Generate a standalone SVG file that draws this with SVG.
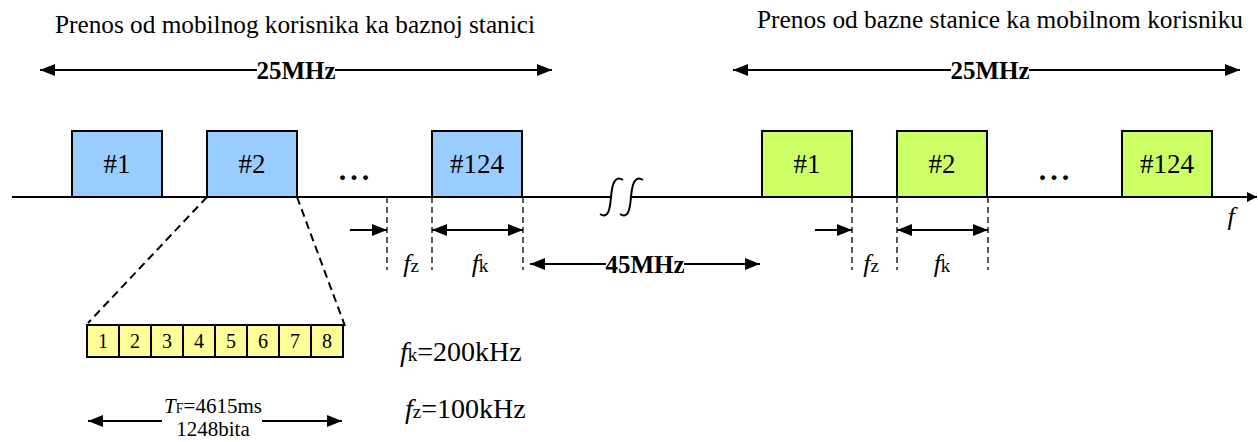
<svg xmlns="http://www.w3.org/2000/svg" width="1258" height="442" viewBox="0 0 1258 442">
  <style>
    text { font-family: "Liberation Serif", "Times New Roman", serif; fill: #000; }
    .title { font-size: 25px; text-anchor: middle; }
    .bold { font-size: 25px; font-weight: bold; text-anchor: middle; }
    .lbl { font-size: 26px; text-anchor: middle; }
    .box { font-size: 27px; text-anchor: middle; }
    .dots { font-size: 30px; font-weight: bold; text-anchor: middle; }
    .it { font-style: italic; }
    .sub { font-size: 19px; }
    .subs { font-size: 14px; }
    .slot { font-size: 20px; text-anchor: middle; }
    .param { font-size: 28px; }
    .psub { font-size: 19px; }
    .small { font-size: 21px; text-anchor: middle; }
    .line { stroke: #000; stroke-width: 2; fill: none; }
    .dash { stroke: #000; stroke-width: 1.3; stroke-dasharray: 6 4; fill: none; }
    .dashd { stroke: #000; stroke-width: 2; stroke-dasharray: 8 5; fill: none; }
    .up { fill: #99CCFF; stroke: #000; stroke-width: 2; }
    .down { fill: #CCFF66; stroke: #000; stroke-width: 2; }
    .ts { fill: #FFFF99; stroke: #000; stroke-width: 2; }
  </style>
  <defs>
    <marker id="ah" viewBox="0 0 15 12" refX="15" refY="6" markerWidth="15" markerHeight="12" markerUnits="userSpaceOnUse" orient="auto-start-reverse">
      <path d="M0,0 L15,6 L0,12 Z" fill="#000"/>
    </marker>
    <marker id="ahs" viewBox="0 0 10 10" refX="10" refY="5" markerWidth="10" markerHeight="10" markerUnits="userSpaceOnUse" orient="auto">
      <path d="M0,0 L10,5 L0,10 Z" fill="#000"/>
    </marker>
  </defs>

  <!-- headings -->
  <g id="title-uplink">
    <text class="title" x="295" y="33" textLength="480" lengthAdjust="spacingAndGlyphs">Prenos od mobilnog korisnika ka baznoj stanici</text>
  </g>
  <g id="title-downlink">
    <text class="title" x="1000" y="28" textLength="486" lengthAdjust="spacingAndGlyphs">Prenos od bazne stanice ka mobilnom korisniku</text>
  </g>

  <!-- bandwidth spans -->
  <g id="span-uplink">
    <line class="line" x1="40" y1="70" x2="257" y2="70" marker-start="url(#ah)"/>
    <line class="line" x1="335" y1="70" x2="552" y2="70" marker-end="url(#ah)"/>
    <text class="bold" x="296" y="79">25MHz</text>
  </g>
  <g id="span-downlink">
    <line class="line" x1="733" y1="70" x2="951" y2="70" marker-start="url(#ah)"/>
    <line class="line" x1="1029" y1="70" x2="1240" y2="70" marker-end="url(#ah)"/>
    <text class="bold" x="990" y="79">25MHz</text>
  </g>

  <!-- frequency axis -->
  <g id="axis">
    <line class="line" x1="12" y1="197" x2="610" y2="197"/>
    <line class="line" x1="632" y1="197" x2="1257" y2="197" marker-end="url(#ahs)"/>
    <path class="line" d="M623,180 C615,175 612,184 611,197 C610,210 608,219 600,214"/>
    <path class="line" d="M643,180 C635,175 632,184 631,197 C630,210 628,219 620,214"/>
    <text class="lbl it" x="1231" y="225">f</text>
  </g>

  <!-- uplink carriers -->
  <g id="up-1"><rect class="up" x="72" y="131" width="90" height="66"/><text class="box" x="117" y="173">#1</text></g>
  <g id="up-2"><rect class="up" x="207" y="131" width="90" height="66"/><text class="box" x="252" y="173">#2</text></g>
  <g id="up-dots"><text class="dots" x="356" y="180" letter-spacing="4">...</text></g>
  <g id="up-124"><rect class="up" x="432" y="131" width="90" height="66"/><text class="box" x="477" y="173">#124</text></g>

  <!-- downlink carriers -->
  <g id="down-1"><rect class="down" x="762" y="131" width="90" height="66"/><text class="box" x="807" y="173">#1</text></g>
  <g id="down-2"><rect class="down" x="897" y="131" width="90" height="66"/><text class="box" x="942" y="173">#2</text></g>
  <g id="down-dots"><text class="dots" x="1056" y="180" letter-spacing="4">...</text></g>
  <g id="down-124"><rect class="down" x="1122" y="131" width="90" height="66"/><text class="box" x="1167" y="173">#124</text></g>

  <!-- spacing and channel width dimensions -->
  <g id="connectors">
    <line class="dash" x1="387" y1="197" x2="387" y2="270"/>
    <line class="dash" x1="432" y1="197" x2="432" y2="270"/>
    <line class="dash" x1="523" y1="197" x2="523" y2="270"/>
    <line class="dash" x1="852" y1="197" x2="852" y2="270"/>
    <line class="dash" x1="897" y1="197" x2="897" y2="270"/>
    <line class="dash" x1="988" y1="197" x2="988" y2="270"/>
    <line class="line" x1="350" y1="230" x2="387" y2="230" marker-end="url(#ah)"/>
    <line class="line" x1="432" y1="230" x2="523" y2="230" marker-start="url(#ah)" marker-end="url(#ah)"/>
    <line class="line" x1="815" y1="230" x2="852" y2="230" marker-end="url(#ah)"/>
    <line class="line" x1="897" y1="230" x2="988" y2="230" marker-start="url(#ah)" marker-end="url(#ah)"/>
    <!-- duplex separation -->
    <line class="line" x1="530" y1="264" x2="606" y2="264" marker-start="url(#ah)"/>
    <line class="line" x1="684" y1="264" x2="760" y2="264" marker-end="url(#ah)"/>
    <!-- zoom onto carrier #2 -->
    <line class="dashd" x1="207" y1="197" x2="88" y2="323"/>
    <line class="dashd" x1="297" y1="197" x2="345" y2="326"/>
    <!-- frame duration -->
    <line class="line" x1="88" y1="421" x2="162" y2="421" marker-start="url(#ah)"/>
    <line class="line" x1="262" y1="421" x2="342" y2="421" marker-end="url(#ah)"/>
  </g>

  <g id="dim-labels">
    <text class="lbl" x="411" y="272"><tspan class="it">f</tspan><tspan class="sub">z</tspan></text>
    <text class="lbl" x="480" y="272"><tspan class="it">f</tspan><tspan class="sub">k</tspan></text>
    <text class="lbl" x="871" y="272"><tspan class="it">f</tspan><tspan class="sub">z</tspan></text>
    <text class="lbl" x="942" y="272"><tspan class="it">f</tspan><tspan class="sub">k</tspan></text>
    <text class="bold" x="645" y="273">45MHz</text>
  </g>

  <!-- TDMA frame of 8 time slots -->
  <g id="frame">
    <rect class="ts" x="87" y="325" width="32" height="32"/>
    <rect class="ts" x="119" y="325" width="32" height="32"/>
    <rect class="ts" x="151" y="325" width="32" height="32"/>
    <rect class="ts" x="183" y="325" width="32" height="32"/>
    <rect class="ts" x="215" y="325" width="32" height="32"/>
    <rect class="ts" x="247" y="325" width="32" height="32"/>
    <rect class="ts" x="279" y="325" width="32" height="32"/>
    <rect class="ts" x="311" y="325" width="32" height="32"/>
    <text class="slot" x="103" y="348">1</text>
    <text class="slot" x="135" y="348">2</text>
    <text class="slot" x="167" y="348">3</text>
    <text class="slot" x="199" y="348">4</text>
    <text class="slot" x="231" y="348">5</text>
    <text class="slot" x="263" y="348">6</text>
    <text class="slot" x="295" y="348">7</text>
    <text class="slot" x="327" y="348">8</text>
  </g>

  <g id="frame-labels">
    <text class="small" x="213" y="413"><tspan class="it">T</tspan><tspan class="subs">F</tspan>=4615ms</text>
    <text class="small" x="213" y="436">1248bita</text>
  </g>

  <g id="params">
    <text class="param" x="400" y="361"><tspan class="it">f</tspan><tspan class="psub">k</tspan>=200kHz</text>
    <text class="param" x="405" y="418"><tspan class="it">f</tspan><tspan class="psub">z</tspan>=100kHz</text>
  </g>
</svg>
